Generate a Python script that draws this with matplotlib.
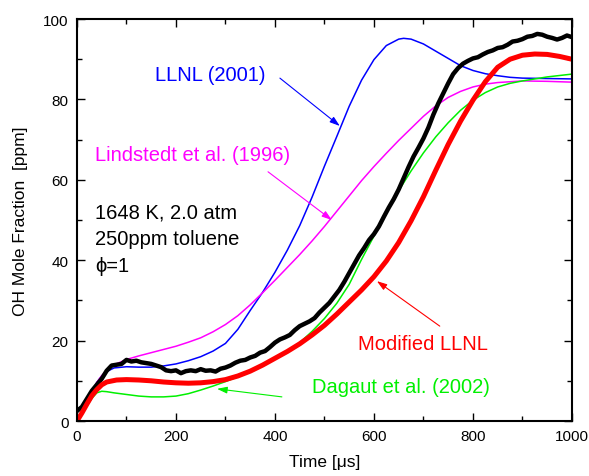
import numpy as np
import matplotlib
matplotlib.use("Agg")
import matplotlib.pyplot as plt
from matplotlib.ticker import MultipleLocator

plt.rcParams["font.family"] = ["Liberation Sans", "DejaVu Sans"]

# LLNL (2001)
T_LLNL = [0, 10, 20, 30, 40, 50, 60, 75, 100, 125, 150, 175, 200, 225, 250, 275, 300,
          325, 350, 375, 400, 425, 450, 475, 500, 525, 550, 575, 600, 625, 650, 660,
          675, 700, 725, 750, 775, 800, 825, 850, 875, 900, 950, 1000]
Y_LLNL = [0, 2, 4.5, 7, 9.6, 11.2, 12.3, 13.2, 13.5, 13.4, 13.4, 13.7, 14.2, 15, 16, 17.4,
          19.3, 22.8, 27.5, 32, 37, 42.5, 48.6, 55.7, 63.4, 70.8, 78.3, 84.8, 89.9, 93.4,
          95, 95.2, 95, 93.8, 92, 90.2, 88.4, 87.2, 86.4, 85.9, 85.5, 85.3, 85.2, 85.1]

# Lindstedt et al. (1996)
T_LIND = [0, 10, 20, 30, 40, 50, 60, 75, 100, 125, 150, 175, 200, 225, 250, 275, 300,
          325, 350, 375, 400, 425, 450, 475, 500, 525, 550, 575, 600, 625, 650, 675,
          700, 725, 750, 775, 800, 825, 850, 900, 950, 1000]
Y_LIND = [0, 2, 4.5, 7, 9.6, 11.3, 12.6, 14, 15.3, 16.2, 17, 17.8, 18.6, 19.6, 20.7, 22.2,
          24, 26.2, 28.9, 31.9, 35, 38.2, 41.4, 44.8, 48.4, 52.2, 56, 59.8, 63.3, 66.6,
          69.8, 72.8, 75.8, 78.4, 80.5, 82, 83.1, 83.8, 84.2, 84.6, 84.5, 84.3]

# Dagaut et al. (2002)
T_DAG = [0, 10, 20, 30, 40, 50, 60, 75, 100, 125, 150, 175, 200, 225, 250, 275, 300,
         325, 350, 375, 400, 425, 450, 475, 500, 525, 550, 575, 600, 625, 650, 675,
         700, 725, 750, 775, 800, 825, 850, 875, 900, 950, 1000]
Y_DAG = [0, 1.8, 3.8, 5.6, 7.0, 7.4, 7.3, 7.0, 6.6, 6.2, 6.0, 6.0, 6.2, 6.8, 7.7, 8.7,
         9.8, 11, 12.3, 14, 15.5, 17.3, 19.5, 22.3, 25.5, 29.3, 34, 40.2, 46, 51.8, 57.3,
         62.2, 66.7, 70.7, 74.2, 77.3, 79.8, 81.7, 83.1, 84, 84.6, 85.6, 86.3]

# Modified LLNL
T_MOD = [0, 10, 20, 30, 40, 50, 60, 80, 100, 125, 150, 175, 200, 225, 250, 275, 300,
         325, 350, 375, 400, 425, 450, 475, 500, 525, 550, 575, 600, 625, 650, 675, 700,
         725, 750, 775, 800, 825, 850, 875, 900, 925, 950, 975, 1000]
Y_MOD = [0, 2, 4.2, 6.3, 7.8, 9, 9.7, 10.2, 10.3, 10.2, 10, 9.7, 9.5, 9.4, 9.5, 9.8,
         10.3, 11.2, 12.4, 13.9, 15.6, 17.3, 19.2, 21.4, 23.8, 26.6, 29.6, 32.6, 35.9,
         39.8, 44.4, 49.8, 55.8, 62.4, 68.8, 74.6, 79.8, 84.4, 88, 90, 91, 91.3, 91.2,
         90.7, 90]

# experiment
T_EXP = list(range(0, 1001, 10))
Y_EXP = [2.5, 3.5, 5.5, 7.5, 9, 10.5, 12.5, 13.8, 14, 14.2,
         15.2, 14.8, 15, 14.6, 14.4, 14.2, 13.8, 13.4, 12.6, 12.4,
         12.6, 11.9, 12.4, 12.6, 12.4, 12.9, 12.5, 12.6, 12.3, 13,
         13.3, 13.8, 14.5, 15, 15.2, 15.8, 16.2, 17, 17.4, 18.4,
         19.5, 20.3, 20.8, 21.4, 22.6, 23.6, 24.2, 24.8, 25.6, 27,
         28.2, 29.4, 31, 32.6, 34.6, 36.8, 39, 41.2, 43, 45,
         46.5, 48.4, 50.8, 53.1, 55.2, 57.6, 60.4, 63.2, 65.8, 68,
         70.3, 73, 76.2, 79, 81.5, 84, 86.3, 87.8, 88.9, 89.6,
         90.2, 90.5, 91.2, 91.8, 92.2, 92.8, 93, 93.6, 94.4, 94.6,
         95, 95.6, 95.8, 96.3, 96.1, 95.6, 95.3, 94.9, 95.3, 95.9,
         95.5]

fig = plt.figure(figsize=(5.89, 4.77), dpi=100)
ax = fig.add_axes([0.1307, 0.1153, 0.8403, 0.8427])

ax.plot(T_LLNL, Y_LLNL, color="#0000ff", lw=1.1)
ax.plot(T_LIND, Y_LIND, color="#ff00ff", lw=1.1)
ax.plot(T_DAG, Y_DAG, color="#00f000", lw=1.1)
ax.plot(T_EXP, Y_EXP, color="black", lw=3.2)
ax.plot(T_MOD, Y_MOD, color="#ff0000", lw=3.6)

ax.set_xlim(0, 1000)
ax.set_ylim(0, 100)
ax.xaxis.set_major_locator(MultipleLocator(200))
ax.xaxis.set_minor_locator(MultipleLocator(100))
ax.yaxis.set_major_locator(MultipleLocator(20))
ax.yaxis.set_minor_locator(MultipleLocator(10))
ax.tick_params(which="both", direction="in", top=True, right=True, width=1.0,
               labelsize=11, pad=6)
ax.tick_params(which="major", length=5.8)
ax.tick_params(which="minor", length=3.6)
for sp in ax.spines.values():
    sp.set_linewidth(1.5)

ax.set_xlabel("Time [\u03bcs]", fontsize=12.5, labelpad=8)
ax.set_ylabel("OH Mole Fraction  [ppm]", fontsize=12.5, labelpad=11)

fs = 14.5
arrow = dict(arrowstyle="-|>,head_length=0.6,head_width=0.2", lw=0.8, shrinkA=0, shrinkB=0)

ax.text(269, 86.3, "LLNL (2001)", color="#0000ff", fontsize=fs, ha="center", va="center")
ax.annotate("", xy=(531, 73.4), xytext=(410, 85.3),
            arrowprops=dict(arrow, color="#0000ff"))

ax.text(233, 66.4, "Lindstedt et al. (1996)", color="#ff00ff", fontsize=fs,
        ha="center", va="center")
ax.annotate("", xy=(515, 50), xytext=(386, 62),
            arrowprops=dict(arrow, color="#ff00ff"))

ax.text(699, 19.4, "Modified LLNL", color="#ff0000", fontsize=fs, ha="center", va="center")
ax.annotate("", xy=(606, 34.8), xytext=(733, 23.6),
            arrowprops=dict(arrow, color="#ff0000"))

ax.text(655, 8.7, "Dagaut et al. (2002)", color="#00f000", fontsize=fs,
        ha="center", va="center")
ax.annotate("", xy=(283, 8), xytext=(414, 6),
            arrowprops=dict(arrow, color="#00f000"))

ax.text(36, 52, "1648 K, 2.0 atm", fontsize=fs, ha="left", va="center")
ax.text(36, 45.3, "250ppm toluene", fontsize=fs, ha="left", va="center")
ax.text(36, 38.8, "\u03d5=1", fontsize=fs, ha="left", va="center")

fig.savefig("out.png", dpi=100)
